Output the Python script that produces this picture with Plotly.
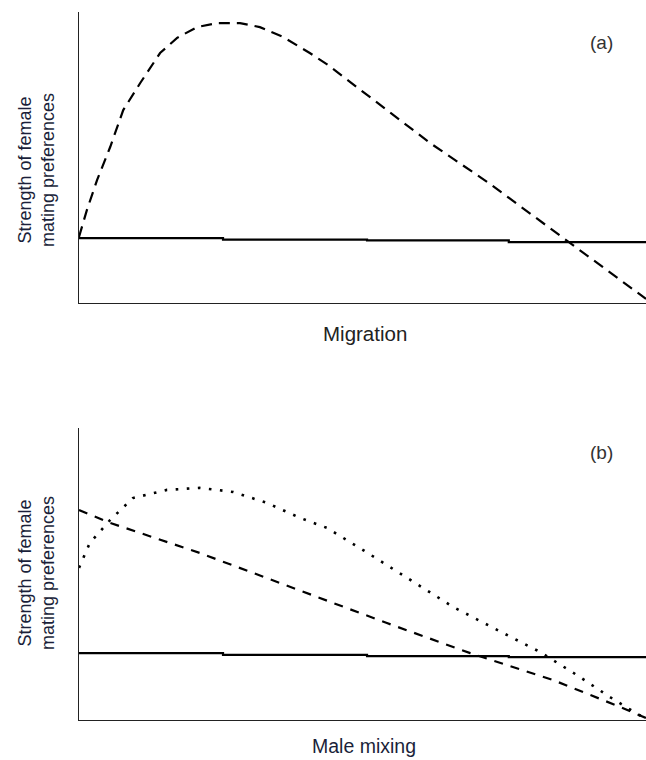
import plotly.graph_objects as go

# ---- data (x: 0-100 along the axis, y: 0-100 of axis height) ----
# Panel (a): Migration
a_dash_x = [0, 0.5, 1.4, 3.2, 5.5, 7.8, 10.8, 14.3, 17.3, 20.8, 24.3, 28.4, 31.9, 36.0, 40.7, 43.9, 61.9, 72.0, 87.1, 99.5, 100]
a_dash_y = [22.7, 26.1, 32.0, 42.3, 53.6, 66.3, 75.6, 85.9, 91.1, 94.8, 96.2, 96.2, 94.8, 91.4, 85.9, 81.8, 55.0, 41.6, 19.9, 2.1, 1.4]
a_solid_x = [0, 25.4, 25.4, 50.8, 50.8, 75.8, 75.8, 100]
a_solid_y = [22.3, 22.3, 21.8, 21.8, 21.5, 21.5, 20.9, 20.9]

# Panel (b): Male mixing
b_dash_x = [0, 5.5, 21.3, 42.0, 54.3, 69.0, 83.6, 95.4, 99.5, 100]
b_dash_y = [71.9, 67.5, 57.2, 42.1, 33.2, 22.9, 13.7, 4.5, 1.0, 0.7]
b_dot_x = [0, 1.9, 5.5, 9.5, 15.5, 21.3, 27.2, 33.2, 39.0, 43.7, 50.1, 57.1, 66.0, 74.8, 81.3, 87.8, 93.6, 98.8, 100]
b_dot_y = [52.1, 60.6, 68.5, 76.0, 78.8, 79.5, 78.1, 74.3, 69.2, 65.8, 58.2, 49.7, 38.7, 29.8, 23.3, 15.4, 7.9, 1.7, 0.7]
b_solid_x = [0, 25.4, 25.4, 50.8, 50.8, 75.8, 75.8, 100]
b_solid_y = [22.9, 22.9, 22.3, 22.3, 21.9, 21.9, 21.5, 21.5]

panel_labels = ["(a)", "(b)"]
x_titles = ["Migration", "Male mixing"]
y_title = "Strength of female<br>mating preferences"

fig = go.Figure()
LW = 2.2
fig.add_trace(go.Scatter(x=a_dash_x, y=a_dash_y, mode="lines", line=dict(color="black", width=LW, dash="11px,7px"), xaxis="x", yaxis="y"))
fig.add_trace(go.Scatter(x=a_solid_x, y=a_solid_y, mode="lines", line=dict(color="black", width=LW), xaxis="x", yaxis="y"))
fig.add_trace(go.Scatter(x=b_dot_x, y=b_dot_y, mode="lines", line=dict(color="black", width=2.6, dash="2.6px,8.5px"), xaxis="x2", yaxis="y2"))
fig.add_trace(go.Scatter(x=b_dash_x, y=b_dash_y, mode="lines", line=dict(color="black", width=LW, dash="9px,8px"), xaxis="x2", yaxis="y2"))
fig.add_trace(go.Scatter(x=b_solid_x, y=b_solid_y, mode="lines", line=dict(color="black", width=LW), xaxis="x2", yaxis="y2"))

ax = dict(range=[0, 100], showline=True, linecolor="#222", linewidth=1, showticklabels=False,
          ticks="", showgrid=False, zeroline=False, fixedrange=True)

W, H = 646, 760
L, R, T, B = 79, 0, 12, 40
PW, PH = W - L - R, H - T - B

def px(xp):
    return (xp - L) / PW

def py(yp):
    return (H - B - yp) / PH

fig.update_layout(
    width=W, height=H,
    margin=dict(l=L, r=R, t=T, b=B),
    paper_bgcolor="white", plot_bgcolor="white",
    showlegend=False,
    xaxis=dict(**ax, domain=[0, 1], anchor="y"),
    yaxis=dict(**ax, domain=[py(303), 1], anchor="x"),
    xaxis2=dict(**ax, domain=[0, 1], anchor="y2"),
    yaxis2=dict(**ax, domain=[0, py(428)], anchor="x2"),
)

ann = []
for lab, ycen in zip(panel_labels, [43, 452]):
    ann.append(dict(text=lab, x=px(601), y=py(ycen), xref="paper", yref="paper", showarrow=False,
                    xanchor="center", yanchor="middle", font=dict(family="Liberation Sans", size=19, color="#333")))
ann.append(dict(text=x_titles[0], x=px(365), y=py(333), xref="paper", yref="paper", showarrow=False,
                xanchor="center", yanchor="middle", font=dict(family="Liberation Sans", size=20.5, color="#222")))
ann.append(dict(text=x_titles[1], x=px(364), y=py(746), xref="paper", yref="paper", showarrow=False,
                xanchor="center", yanchor="middle", font=dict(family="Liberation Sans", size=19.5, color="#1b1f3a")))
for ycen in [170, 573]:
    ann.append(dict(text=y_title, x=px(36), y=py(ycen), xref="paper", yref="paper", showarrow=False,
                    textangle=-90, xanchor="center", yanchor="middle",
                    font=dict(family="Liberation Sans", size=18, color="#1b1f3a")))
fig.update_layout(annotations=ann)

fig.write_html("out.html", config={"displayModeBar": False})
